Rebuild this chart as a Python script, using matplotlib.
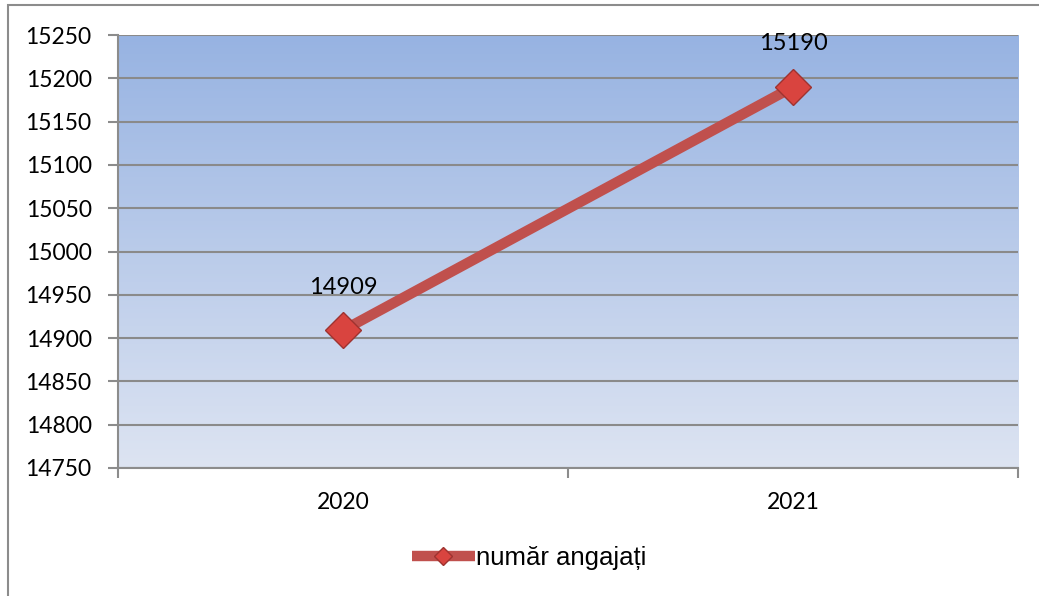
import numpy as np
import matplotlib.pyplot as plt
from matplotlib.patches import Rectangle
from matplotlib.colors import LinearSegmentedColormap

# Chart data
years = ['2020', '2021']
employees = [14909, 15190]
series_name = 'număr angajați'
y_ticks = [14750, 14800, 14850, 14900, 14950, 15000, 15050, 15100, 15150, 15200, 15250]

W, H = 1039, 596
fig = plt.figure(figsize=(W / 100, H / 100), dpi=100)
ax = fig.add_axes([118 / W, 1 - 468 / H, 900 / W, 433 / H])

# outer chart frame
fig.patches.append(Rectangle((8 / W, -0.05), 1.2, (1 - 5 / H) + 0.05,
                             transform=fig.transFigure, fill=False,
                             edgecolor='#8c8c8c', linewidth=1.5))

# gradient background of the plot area
grad = LinearSegmentedColormap.from_list('bg', ['#dde4f2', '#97b3e2'])
ax.imshow(np.linspace(0, 1, 256).reshape(-1, 1), cmap=grad, aspect='auto',
          extent=[0, 1, 0, 1], transform=ax.transAxes, origin='lower', zorder=0)

x = np.arange(len(years))
ax.plot(x, employees, color='#c0504d', linewidth=7.5, solid_capstyle='butt',
        marker='D', markersize=18, markerfacecolor='#d9443f',
        markeredgecolor='#9e3330', markeredgewidth=1, zorder=3, label=series_name)

for xi, v in zip(x, employees):
    ax.annotate(str(v), (xi, v), xytext=(0, 31), textcoords='offset points',
                ha='center', va='center', fontsize=17, family='Lato', color='black')

ax.set_xlim(-0.5, 1.5)
ax.set_ylim(14750, 15250)
ax.set_yticks(y_ticks)
ax.set_yticklabels([str(t) for t in y_ticks], fontsize=16.5, family='Lato')
ax.set_xticks(x)
ax.set_xticklabels(years, fontsize=16.5, family='Lato')
ax.set_xticks([-0.5, 0.5, 1.5], minor=True)
ax.tick_params(axis='x', which='major', length=0, pad=17)
ax.tick_params(axis='x', which='minor', length=7, width=1.5, color='#8c8c8c')
ax.tick_params(axis='y', length=7, width=1.5, color='#8c8c8c', pad=12)

ax.grid(axis='y', color='#8a8a8a', linewidth=1.5)
ax.set_axisbelow(True)
for s in ['top', 'right']:
    ax.spines[s].set_visible(False)
for s in ['left', 'bottom']:
    ax.spines[s].set_color('#8c8c8c')
    ax.spines[s].set_linewidth(1.5)

leg = fig.legend(loc='center', bbox_to_anchor=(529 / W, 1 - 558 / H), frameon=False,
                 prop={'family': 'Liberation Sans', 'size': 18.5},
                 handlelength=2.45, handletextpad=0.05, markerscale=0.5)

fig.savefig('out.png', dpi=100, facecolor='white')
